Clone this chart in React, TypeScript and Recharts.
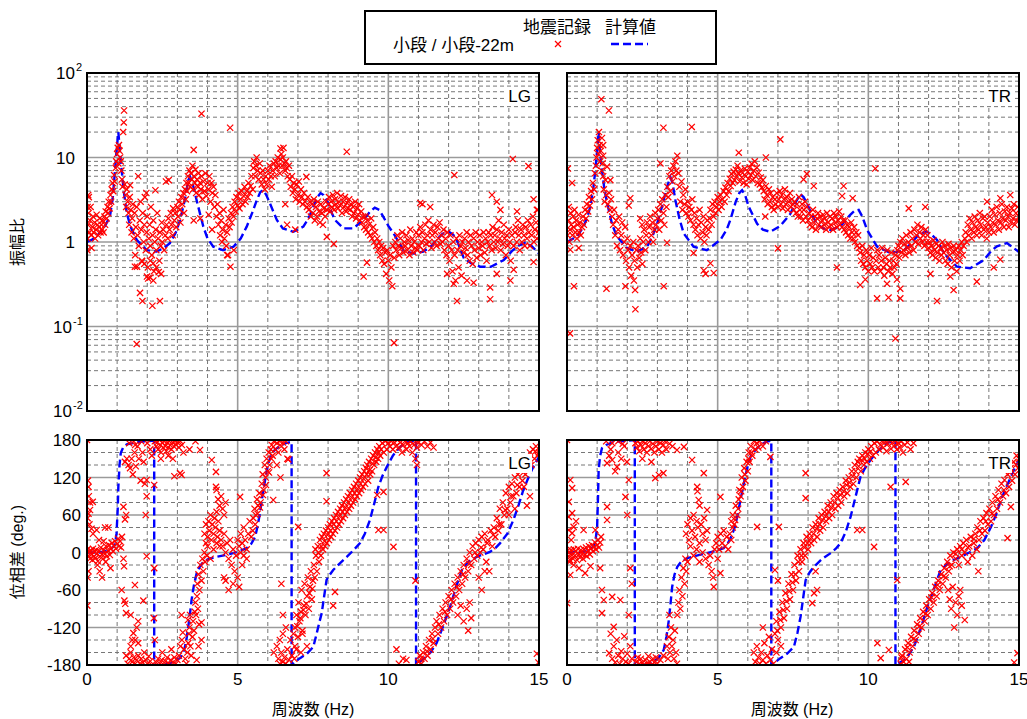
import React from "react";
import { CartesianGrid, ComposedChart, Line, Scatter, XAxis, YAxis } from "recharts";

type Pt = [number, number];

// ---- axis ticks / grid values ----
const freqTicks = [0, 5, 10, 15];
const freqMinor = [1, 2, 3, 4, 6, 7, 8, 9, 11, 12, 13, 14];
const freqMajor = [5, 10];
const ampTicks = [0.01, 0.1, 1, 10, 100];
const ampMajor = [0.1, 1, 10];
const ampMinor = [0.01, 0.1, 1, 10].flatMap((d) => [2, 3, 4, 5, 6, 7, 8, 9].map((m) => +(m * d).toPrecision(3)));
const phaseTicks = [-180, -120, -60, 0, 60, 120, 180];
const phaseMajor = [-120, -60, 0, 60, 120];
const phaseMinor = [-160, -140, -100, -80, -40, -20, 20, 40, 80, 100, 140, 160];

// ---- 計算値 (amplitude ratio) ----
const ampCalcLG: Pt[] = [
  [0, 1.0], [0.2, 1.08], [0.43, 1.28], [0.6, 1.55], [0.76, 2.0], [0.85, 3.2], [0.93, 7.1], [0.98, 12], [1.04, 20],
  [1.1, 11], [1.15, 7.1], [1.22, 4.0], [1.32, 2.2], [1.45, 1.5], [1.65, 1.06], [1.98, 0.8], [2.31, 0.77], [2.55, 0.85],
  [2.75, 0.97], [2.95, 1.3], [3.09, 1.82], [3.25, 3.2], [3.36, 5.4], [3.42, 5.9], [3.5, 5.0], [3.64, 3.1], [3.86, 1.52],
  [4.0, 1.1], [4.19, 0.88], [4.52, 0.8], [4.86, 0.88], [5.1, 1.1], [5.3, 1.52], [5.5, 2.3], [5.63, 3.1], [5.75, 3.9],
  [5.85, 4.1], [5.95, 3.6], [6.07, 2.87], [6.3, 1.82], [6.5, 1.45], [6.85, 1.32], [7.18, 1.52], [7.35, 1.9], [7.51, 2.62],
  [7.65, 3.4], [7.75, 3.8], [7.85, 3.6], [7.96, 3.1], [8.1, 2.3], [8.23, 1.82], [8.51, 1.45], [8.84, 1.45], [9.17, 1.82],
  [9.4, 2.3], [9.55, 2.55], [9.7, 2.4], [9.83, 2.0], [10.0, 1.55], [10.17, 1.27], [10.5, 0.8], [10.83, 0.73], [11.16, 0.77],
  [11.4, 0.88], [11.6, 1.06], [11.8, 1.25], [12.0, 1.33], [12.15, 1.22], [12.27, 1.06], [12.5, 0.65], [12.75, 0.56],
  [13.05, 0.51], [13.4, 0.51], [13.83, 0.61], [14.1, 0.78], [14.3, 0.9], [14.55, 0.98], [14.75, 0.9], [15, 0.73],
];
const ampCalcTR: Pt[] = [
  [0, 1.0], [0.33, 1.16], [0.55, 1.52], [0.7, 2.1], [0.77, 2.62], [0.87, 4.2], [0.94, 7.1], [1.0, 12], [1.05, 20],
  [1.1, 11], [1.16, 7.1], [1.25, 4.0], [1.33, 2.9], [1.5, 1.6], [1.66, 1.16], [1.99, 0.85], [2.32, 0.77], [2.66, 0.88],
  [2.85, 1.2], [2.99, 1.64], [3.15, 2.6], [3.32, 4.5], [3.43, 5.9], [3.5, 5.0], [3.6, 3.1], [3.73, 1.9], [3.87, 1.27],
  [4.2, 0.88], [4.64, 0.8], [5.09, 1.06], [5.3, 1.4], [5.42, 1.82], [5.6, 3.0], [5.72, 3.8], [5.81, 4.1], [5.92, 3.5],
  [6.03, 2.62], [6.31, 1.64], [6.5, 1.4], [6.75, 1.32], [7.08, 1.55], [7.41, 2.15], [7.6, 3.0], [7.74, 3.7], [7.85, 3.4],
  [7.96, 2.9], [8.1, 2.2], [8.29, 1.64], [8.5, 1.45], [8.74, 1.39], [9.07, 1.52], [9.4, 2.1], [9.55, 2.35], [9.68, 2.4],
  [9.8, 2.0], [9.96, 1.39], [10.29, 0.88], [10.74, 0.74], [11.18, 0.8], [11.4, 0.95], [11.62, 1.16], [11.8, 1.28],
  [11.95, 1.32], [12.1, 1.22], [12.28, 1.06], [12.45, 0.8], [12.61, 0.67], [12.94, 0.51], [13.38, 0.49], [13.83, 0.61],
  [14.1, 0.8], [14.27, 0.89], [14.6, 0.97], [14.8, 0.86], [15, 0.76],
];

// ---- 計算値 (phase) ----
const phaseCalcLG: Pt[] = [
  [0, 0], [0.43, 0], [0.76, 4], [0.93, 12], [0.98, 31], [1.02, 70], [1.04, 105], [1.08, 140], [1.12, 159], [1.2, 168],
  [1.32, 173], [1.76, 177], [2.23, 179], [2.23, -180], [2.42, -180], [2.75, -177], [2.95, -173], [3.08, -169], [3.18, -162],
  [3.25, -151], [3.31, -136], [3.36, -119], [3.42, -97], [3.47, -76], [3.55, -52], [3.64, -33], [3.75, -22], [3.86, -15],
  [4.05, -10], [4.3, -7], [4.6, -4], [4.86, -1], [5.1, 3], [5.3, 7], [5.45, 14], [5.58, 25], [5.66, 42], [5.74, 63],
  [5.82, 90], [5.91, 116], [6.0, 140], [6.13, 159], [6.3, 167], [6.46, 172], [6.6, 175], [6.79, 177], [6.79, -180],
  [6.9, -175], [7.07, -169], [7.3, -162], [7.51, -151], [7.62, -130], [7.72, -110], [7.79, -97], [7.87, -70], [7.95, -44],
  [8.05, -36], [8.17, -28], [8.4, -17], [8.62, -7], [8.85, 4], [9.06, 15], [9.22, 30], [9.39, 52], [9.53, 78], [9.67, 105],
  [9.8, 122], [9.95, 137], [10.15, 155], [10.39, 169], [10.6, 176], [10.92, 180], [10.92, -180], [11.0, -177],
  [11.16, -171], [11.4, -160], [11.6, -145], [11.8, -120], [12.05, -87], [12.25, -55], [12.44, -28], [12.65, -15],
  [12.93, -7], [13.15, -3], [13.37, 1], [13.55, 7], [13.71, 15], [13.95, 30], [14.15, 52], [14.33, 77], [14.48, 100],
  [14.65, 120], [14.81, 137], [15, 153],
];
const phaseCalcTR: Pt[] = [
  [0, 0], [0.55, 1], [0.88, 9], [0.95, 20], [1.0, 41], [1.03, 90], [1.05, 132], [1.1, 155], [1.16, 167], [1.3, 172],
  [1.55, 177], [2.25, 180], [2.25, -180], [2.55, -180], [2.88, -175], [3.05, -168], [3.21, -156], [3.3, -135],
  [3.38, -108], [3.44, -80], [3.49, -55], [3.57, -35], [3.66, -23], [3.8, -14], [3.99, -9], [4.3, -5], [4.65, -1],
  [4.95, 3], [5.2, 7], [5.33, 14], [5.43, 23], [5.55, 38], [5.65, 57], [5.76, 85], [5.87, 111], [5.98, 135], [6.09, 153],
  [6.25, 164], [6.42, 172], [6.6, 177], [6.78, 179], [6.78, -180], [6.9, -176], [7.08, -169], [7.3, -162], [7.53, -151],
  [7.65, -128], [7.75, -103], [7.84, -72], [7.92, -44], [8.05, -32], [8.19, -23], [8.45, -11], [8.75, -1], [8.92, 6],
  [9.08, 15], [9.25, 33], [9.41, 57], [9.58, 90], [9.74, 121], [9.9, 136], [10.07, 148], [10.25, 159], [10.41, 167],
  [10.62, 175], [10.9, 180], [10.9, -180], [10.98, -178], [11.18, -172], [11.35, -163], [11.51, -151], [11.75, -120],
  [11.96, -87], [12.2, -55], [12.4, -28], [12.7, -15], [13.06, -7], [13.35, 0], [13.62, 7], [13.85, 20], [14.07, 41],
  [14.25, 62], [14.4, 84], [14.58, 105], [14.73, 121], [14.87, 136], [15, 148],
];

// ---- 地震記録 (amplitude ratio) ----
const ampRecLG: Pt[] = [
  [0.02, 1.1], [0.03, 1.6], [0.05, 2.2], [0.06, 3.4], [0.08, 1.3], [0.1, 1.8], [0.12, 2.6], [0.14, 1.2], [0.15, 0.85],
  [0.18, 1.5], [0.2, 2.0], [0.22, 1.3], [0.25, 1.7], [0.27, 1.1], [0.3, 1.4], [0.32, 2.1], [0.35, 1.6], [0.37, 1.2],
  [0.4, 1.5], [0.42, 1.9], [0.45, 1.3], [0.48, 1.6], [0.5, 1.4], [0.01, 0.8], [0.02, 2.6], [0.04, 3.6],
  [0.52, 1.8], [0.55, 1.3], [0.58, 2.0], [0.6, 1.6], [0.62, 2.3], [0.65, 1.9], [0.68, 2.6], [0.7, 2.2], [0.72, 3.0],
  [0.75, 2.5], [0.78, 3.6], [0.8, 3.0], [0.82, 4.2], [0.85, 5.0], [0.87, 4.0], [0.9, 6.2], [0.92, 5.2], [0.95, 7.5],
  [0.97, 9.0], [1.0, 11], [1.02, 13], [1.04, 8.5], [1.06, 14], [1.08, 12], [1.1, 10], [1.12, 9], [1.14, 7.0],
  [1.16, 5.5], [1.18, 4.5], [1.2, 20], [1.22, 26], [1.23, 36],
  [1.25, 4.8], [1.28, 3.6], [1.3, 2.6], [1.32, 4.2], [1.35, 3.0], [1.38, 2.2], [1.4, 1.6], [1.42, 3.4], [1.43, 4.7],
  [1.45, 2.4], [1.48, 1.3], [1.5, 1.9], [1.52, 2.8], [1.55, 1.1], [1.58, 2.2], [1.6, 0.7], [1.62, 1.5], [1.65, 2.6],
  [1.68, 1.2], [1.7, 6.0], [1.72, 0.9], [1.75, 1.8], [1.78, 3.0], [1.8, 1.4], [1.82, 0.6], [1.85, 2.2], [1.88, 1.0],
  [1.9, 1.6], [1.92, 3.4], [1.95, 0.8], [1.97, 3.8], [1.98, 1.3], [2.0, 2.0], [2.02, 0.5], [2.05, 1.1], [2.08, 1.6],
  [2.1, 0.9], [2.12, 2.6], [2.15, 0.7], [2.18, 1.2], [2.2, 1.8], [2.22, 0.45], [2.25, 1.0], [2.27, 4.1], [2.28, 1.4],
  [2.3, 0.8], [2.33, 2.2], [2.36, 1.1], [2.4, 0.6], [2.42, 1.3], [2.45, 0.9], [2.48, 1.7],
  [1.59, 0.51], [1.65, 0.062], [1.76, 0.25], [1.84, 0.2], [2.03, 0.37], [2.17, 0.176], [2.2, 0.35], [2.42, 0.2],
  [2.46, 0.42], [1.9, 0.55], [2.1, 0.6], [2.3, 0.5], [1.66, 0.51], [1.83, 0.59], [2.2, 0.56], [2.38, 0.44],
  [1.99, 0.39], [2.1, 0.38],
  [2.5, 1.0], [2.53, 1.4], [2.56, 0.8], [2.6, 1.2], [2.62, 5.2], [2.64, 1.6], [2.68, 1.1], [2.7, 1.9], [2.71, 5.4],
  [2.74, 1.4], [2.78, 2.2], [2.8, 1.6], [2.84, 1.2], [2.86, 2.5], [2.9, 1.8], [2.93, 2.2], [2.96, 1.5], [3.0, 2.6],
  [3.02, 2.0], [3.05, 3.0], [3.08, 2.4], [3.1, 1.7], [3.13, 3.4], [3.16, 2.8], [3.2, 3.8], [3.22, 2.2], [3.25, 4.2],
  [3.28, 3.2], [3.3, 5.0], [3.32, 4.0], [3.35, 6.0], [3.38, 5.0], [3.4, 7.0], [3.42, 4.5], [3.45, 6.5], [3.48, 5.5],
  [3.5, 8.0], [3.52, 4.2], [3.54, 12.3], [3.55, 6.0], [3.58, 5.0], [3.6, 7.2], [3.62, 3.8], [3.65, 5.5], [3.68, 4.5],
  [3.7, 6.5], [3.8, 33], [4.75, 22.5], [3.54, 1.8], [3.76, 1.9], [4.04, 2.1], [4.15, 1.4],
  [3.72, 3.6], [3.75, 5.0], [3.78, 4.2], [3.8, 6.0], [3.83, 3.2], [3.86, 5.2], [3.9, 4.0], [3.93, 6.5], [3.96, 3.5],
  [4.0, 5.0], [4.03, 4.2], [4.06, 6.0], [4.1, 3.0], [4.13, 5.0], [4.16, 3.8], [4.2, 4.5], [4.23, 2.6], [4.26, 3.6],
  [4.3, 2.0], [4.33, 2.8], [4.36, 1.6], [4.4, 2.2], [4.42, 1.2], [4.45, 1.8], [4.48, 1.0], [4.5, 1.4], [4.53, 2.4],
  [4.56, 1.1], [4.6, 1.6], [4.62, 0.9], [4.65, 1.3], [4.65, 0.7], [4.68, 0.7], [4.7, 1.9], [4.76, 0.51], [4.87, 0.8],
  [4.73, 1.5], [4.78, 2.2], [4.8, 1.7], [4.83, 2.6], [4.86, 2.0], [4.9, 3.0], [4.93, 2.3], [4.96, 3.4], [5.0, 2.7],
  [5.03, 3.8], [5.06, 2.5], [5.1, 3.2], [5.13, 4.0], [5.16, 2.8], [5.2, 3.5], [5.23, 4.5], [5.26, 3.0], [5.3, 4.0],
  [5.33, 3.4], [5.36, 5.0], [5.4, 3.8], [5.43, 4.6], [5.46, 6.0], [5.5, 4.2], [5.52, 7.5], [5.55, 9.0], [5.58, 6.0],
  [5.6, 8.0], [5.63, 10], [5.66, 7.0], [5.7, 5.5], [5.73, 8.5], [5.76, 6.5], [5.8, 4.8], [5.83, 7.0], [5.86, 5.5],
  [5.9, 4.2], [5.93, 6.0], [5.96, 4.8], [6.0, 7.0], [6.03, 5.5], [6.06, 8.0], [6.1, 6.0], [6.13, 4.5], [6.16, 7.0],
  [6.2, 8.5], [6.23, 6.0], [6.26, 9.0], [6.3, 7.5], [6.33, 10], [6.36, 8.0], [6.4, 6.5], [6.42, 12.8], [6.42, 9.5],
  [6.45, 11], [6.48, 8.0], [6.5, 10], [6.52, 13], [6.55, 8.5], [6.58, 7.0], [6.6, 9.0], [6.63, 7.5], [6.66, 6.0],
  [6.7, 8.0], [6.58, 2.8], [6.64, 1.6], [6.91, 1.4], [7.28, 5.9],
  [6.73, 5.5], [6.76, 4.5], [6.8, 6.0], [6.83, 3.8], [6.86, 5.0], [6.9, 4.2], [6.93, 3.2], [6.96, 4.8], [7.0, 3.6],
  [7.03, 5.2], [7.06, 3.0], [7.1, 4.2], [7.13, 3.4], [7.16, 2.8], [7.2, 3.8], [7.23, 3.0], [7.3, 2.6], [7.33, 3.4],
  [7.36, 2.4], [7.4, 3.0], [7.43, 2.0], [7.46, 2.8], [7.5, 2.2], [7.53, 3.2], [7.56, 1.8], [7.6, 2.6], [7.63, 2.0],
  [7.66, 3.0], [7.7, 2.3], [7.73, 1.7], [7.76, 2.8], [7.8, 2.2], [7.83, 1.6], [7.86, 2.5], [7.9, 2.0], [7.93, 3.0],
  [7.96, 2.4], [7.96, 1.15], [8.19, 0.95],
  [8.0, 2.8], [8.03, 3.4], [8.06, 2.3], [8.1, 3.0], [8.13, 2.6], [8.16, 3.6], [8.2, 2.4], [8.23, 3.2], [8.26, 2.8],
  [8.3, 3.8], [8.33, 2.5], [8.36, 3.0], [8.4, 2.7], [8.43, 3.5], [8.46, 2.2], [8.5, 3.0], [8.53, 2.6], [8.56, 3.4],
  [8.6, 2.3], [8.62, 11.7], [8.63, 2.9], [8.66, 2.5], [8.7, 3.2], [8.73, 2.4], [8.76, 2.8], [8.8, 2.0], [8.83, 2.6],
  [8.86, 2.2], [8.9, 3.0], [8.93, 1.9], [8.96, 2.5], [9.0, 2.1], [9.03, 2.8], [9.06, 1.8], [9.1, 2.3], [9.13, 1.7],
  [9.16, 2.0], [9.2, 1.5], [9.23, 2.0], [9.26, 1.4], [9.3, 1.8], [9.33, 1.3], [9.36, 1.6], [9.4, 1.2], [9.43, 1.9],
  [9.46, 1.1], [9.5, 1.5], [9.53, 1.0], [9.56, 1.3], [9.6, 0.9], [9.29, 0.57], [9.18, 0.39],
  [9.63, 1.1], [9.66, 0.8], [9.7, 1.0], [9.73, 0.7], [9.76, 0.9], [9.8, 0.6], [9.83, 0.85], [9.86, 0.55], [9.9, 0.75],
  [9.93, 0.42], [9.96, 0.8], [10.0, 0.6], [10.03, 0.35], [10.06, 0.7], [10.1, 0.5], [10.13, 0.3], [10.16, 0.9],
  [10.19, 0.064], [10.2, 0.65], [10.23, 1.0], [10.26, 0.8], [10.3, 1.2], [10.33, 0.9], [10.36, 0.7], [10.4, 1.1],
  [10.43, 0.85], [10.46, 1.3], [10.5, 0.75], [10.53, 1.0], [10.56, 0.9], [10.6, 1.2], [10.63, 0.8], [10.66, 1.05],
  [10.7, 0.7], [10.73, 1.4], [10.76, 0.9], [10.8, 1.1], [10.83, 0.75], [10.86, 1.0], [10.9, 0.85], [10.93, 1.3],
  [10.96, 0.8], [11.06, 2.9], [11.39, 2.6], [12.19, 6.2], [11.13, 2.8],
  [11.0, 1.2], [11.03, 0.9], [11.06, 1.5], [11.1, 1.0], [11.13, 1.3], [11.16, 0.8], [11.2, 1.1], [11.23, 1.6],
  [11.26, 0.95], [11.3, 1.2], [11.33, 1.8], [11.36, 1.0], [11.4, 1.4], [11.43, 0.85], [11.46, 1.2], [11.5, 1.6],
  [11.53, 1.0], [11.56, 1.3], [11.6, 0.9], [11.63, 1.5], [11.66, 1.1], [11.7, 1.7], [11.73, 0.95], [11.76, 1.2],
  [11.8, 1.0], [11.83, 1.4], [11.86, 0.8], [11.9, 1.1], [11.93, 0.7], [11.96, 1.3], [12.0, 0.9], [12.03, 0.6],
  [12.06, 1.2], [12.1, 0.8], [12.13, 0.45], [12.16, 1.0], [12.2, 0.7], [12.23, 0.35], [12.26, 1.1], [12.3, 0.8],
  [12.33, 0.5], [12.36, 1.2], [12.4, 0.9], [12.43, 0.4], [12.46, 1.0], [12.5, 0.75], [12.17, 0.32], [12.28, 0.2],
  [12.61, 0.35], [12.83, 0.33], [11.95, 0.42], [13.38, 0.29], [13.38, 0.21], [13.6, 0.42],
  [12.53, 1.1], [12.56, 0.85], [12.6, 1.3], [12.63, 0.7], [12.66, 1.0], [12.7, 0.6], [12.73, 1.2], [12.76, 0.9],
  [12.8, 0.55], [12.83, 1.1], [12.86, 0.8], [12.9, 1.3], [12.93, 0.65], [12.96, 1.0], [13.0, 0.85], [13.03, 1.2],
  [13.06, 0.7], [13.1, 1.0], [13.13, 0.9], [13.16, 1.3], [13.2, 0.75], [13.23, 1.1], [13.26, 0.6], [13.3, 1.0],
  [13.33, 1.3], [13.36, 0.9], [13.4, 1.2], [13.43, 0.8], [13.46, 1.5], [13.5, 1.0], [13.53, 1.2], [13.56, 0.85],
  [13.6, 1.4], [13.63, 1.0], [13.66, 1.8], [13.7, 1.1], [13.73, 0.8], [13.76, 1.3], [13.8, 0.95], [13.83, 1.6],
  [13.86, 1.1], [13.9, 0.7], [13.93, 1.2], [13.96, 0.9], [14.0, 1.4], [14.03, 1.0], [14.06, 0.6], [14.1, 1.2],
  [14.13, 9.6], [14.16, 0.9], [14.2, 1.3], [13.44, 3.6], [13.6, 3.0], [13.72, 2.4], [14.27, 2.3], [14.82, 3.2],
  [14.93, 2.4], [14.16, 0.47], [14.05, 0.35], [14.82, 0.58],
  [14.23, 1.5], [14.26, 1.0], [14.3, 1.8], [14.33, 1.2], [14.36, 0.8], [14.4, 1.4], [14.43, 1.0], [14.46, 1.6],
  [14.5, 1.2], [14.53, 0.9], [14.56, 1.5], [14.6, 1.1], [14.63, 1.8], [14.65, 7.9], [14.66, 1.3], [14.7, 0.9],
  [14.73, 1.6], [14.76, 1.2], [14.8, 2.0], [14.83, 1.0], [14.86, 1.4], [14.9, 1.7], [14.93, 1.1], [14.96, 2.4], [15.0, 1.3],
];
const ampRecTR: Pt[] = [
  [0.02, 1.2], [0.03, 7.4], [0.05, 1.8], [0.06, 2.6], [0.08, 1.0], [0.1, 0.083], [0.1, 1.4], [0.12, 2.2], [0.14, 1.6],
  [0.17, 5.0], [0.18, 1.2], [0.2, 2.0], [0.22, 1.5], [0.23, 0.3], [0.25, 2.4], [0.28, 1.3], [0.3, 1.8], [0.33, 1.1],
  [0.35, 1.6], [0.38, 2.1], [0.4, 1.3], [0.43, 1.7], [0.46, 1.2], [0.5, 1.5], [0.11, 0.81], [0.39, 0.85],
  [0.53, 2.0], [0.56, 1.6], [0.6, 2.4], [0.63, 1.9], [0.66, 2.8], [0.7, 2.3], [0.73, 3.4], [0.76, 2.7], [0.8, 4.0],
  [0.83, 3.2], [0.86, 5.0], [0.9, 4.2], [0.93, 6.5], [0.96, 8.0], [0.98, 10], [1.0, 13], [1.02, 16], [1.04, 11],
  [1.06, 20], [1.08, 14], [1.1, 9.0], [1.12, 12], [1.14, 49], [1.15, 7.0], [1.16, 17], [1.18, 8.5], [1.2, 14],
  [1.2, 6.0], [1.2, 10.5], [1.39, 36], [1.33, 7.8], [1.44, 5.4],
  [1.22, 4.2], [1.25, 3.0], [1.28, 5.4], [1.3, 3.6], [1.36, 2.8], [1.4, 3.8], [1.43, 2.4], [1.46, 3.2], [1.5, 2.0],
  [1.53, 1.6], [1.56, 2.4], [1.6, 1.2], [1.63, 1.8], [1.66, 0.9], [1.7, 1.4], [1.73, 2.0], [1.76, 0.8], [1.8, 1.2],
  [1.83, 1.7], [1.86, 0.7], [1.9, 1.0], [1.93, 1.5], [1.96, 0.6], [2.0, 1.1], [2.1, 3.3], [2.05, 2.7], [2.43, 1.9],
  [2.49, 1.6], [1.31, 0.28], [1.94, 0.3],
  [2.03, 0.8], [2.06, 0.5], [2.1, 0.9], [2.13, 0.4], [2.16, 0.7], [2.2, 1.0], [2.22, 0.35], [2.24, 0.6], [2.26, 0.27],
  [2.27, 0.16], [2.3, 0.8], [2.33, 0.5], [2.36, 0.9], [2.4, 0.65], [2.43, 1.1], [2.46, 0.75], [2.5, 0.55],
  [2.53, 1.0], [2.56, 1.4], [2.6, 0.8], [2.63, 1.2], [2.66, 1.7], [2.7, 1.0], [2.73, 1.5], [2.76, 2.0], [2.8, 1.2],
  [2.83, 1.7], [2.86, 1.0], [2.9, 1.4], [2.93, 2.2], [2.96, 1.6], [3.0, 1.9], [3.21, 0.3], [3.1, 8.5], [3.2, 22.5],
  [3.32, 0.98], [3.03, 2.4], [3.06, 1.4], [3.1, 2.8], [3.13, 1.8], [3.16, 3.2], [3.2, 2.2], [3.23, 1.6], [3.26, 3.6],
  [3.3, 2.6], [3.33, 4.5], [3.36, 3.4], [3.4, 6.0], [3.43, 4.0], [3.46, 7.0], [3.5, 5.2], [3.53, 8.0], [3.56, 6.0],
  [3.6, 9.0], [3.63, 7.0], [3.66, 10.5], [3.7, 6.5], [3.73, 4.5], [3.76, 3.0], [3.8, 5.2], [3.83, 2.4], [3.86, 3.6],
  [3.9, 2.8], [3.93, 4.2], [3.96, 2.2], [4.0, 3.0], [4.03, 2.0], [4.06, 2.6], [4.1, 1.8], [4.13, 2.4], [4.14, 23],
  [4.16, 3.2], [4.2, 1.6], [4.23, 2.2], [4.26, 1.4], [4.3, 1.9], [4.33, 1.2], [4.36, 1.6], [4.4, 2.4], [4.43, 1.1],
  [4.46, 1.7], [4.5, 1.3], [4.53, 2.0], [4.56, 1.0], [4.6, 1.5], [4.63, 1.2], [4.66, 1.8], [4.7, 1.4], [4.2, 0.74],
  [4.54, 0.46], [4.6, 0.42], [4.87, 0.43], [4.76, 0.56],
  [4.73, 1.9], [4.76, 2.4], [4.8, 1.6], [4.83, 2.8], [4.86, 2.0], [4.9, 3.0], [4.93, 2.2], [4.96, 2.6], [5.0, 3.4],
  [5.03, 2.4], [5.06, 3.0], [5.1, 3.6], [5.13, 2.6], [5.16, 3.2], [5.2, 4.0], [5.23, 3.0], [5.26, 4.4], [5.3, 3.6],
  [5.33, 5.0], [5.36, 4.0], [5.4, 5.6], [5.43, 4.6], [5.46, 6.4], [5.5, 5.0], [5.53, 6.8], [5.56, 5.4], [5.6, 7.2],
  [5.63, 6.0], [5.66, 8.0], [5.7, 11.4], [5.7, 6.4], [5.73, 5.2], [5.76, 7.0], [5.8, 5.8], [5.83, 6.6], [5.86, 5.0],
  [5.9, 7.4], [5.93, 6.0], [5.96, 4.8], [6.0, 6.8], [6.03, 5.6], [6.06, 7.6], [6.1, 6.2], [6.13, 8.4], [6.16, 5.4],
  [6.2, 7.0], [6.23, 9.0], [6.26, 6.0], [6.3, 7.6], [6.33, 5.0], [6.36, 6.6], [6.4, 4.8], [6.43, 5.8], [6.46, 4.4],
  [6.5, 5.4], [6.6, 10], [7.0, 0.84], [6.58, 2.0],
  [6.53, 4.0], [6.56, 3.2], [6.6, 4.6], [6.63, 3.6], [6.66, 2.8], [6.7, 4.2], [6.73, 3.0], [6.76, 3.8], [6.8, 2.6],
  [6.83, 3.4], [6.86, 2.4], [6.9, 3.2], [6.93, 2.8], [6.96, 3.8], [7.0, 2.6], [7.03, 3.2], [7.06, 4.0], [7.08, 16.4],
  [7.1, 2.8], [7.13, 3.6], [7.16, 2.5], [7.2, 3.2], [7.23, 4.2], [7.26, 2.8], [7.3, 3.4], [7.33, 2.4], [7.36, 3.0],
  [7.4, 3.8], [7.43, 2.6], [7.46, 3.2], [7.5, 2.8], [7.85, 5.5], [7.96, 6.4], [8.19, 4.6], [9.18, 4.6], [9.13, 3.5],
  [9.48, 3.3], [8.96, 0.5], [9.73, 0.31], [9.9, 0.36],
  [7.53, 2.4], [7.56, 3.0], [7.6, 2.2], [7.63, 2.8], [7.66, 2.0], [7.7, 3.4], [7.73, 2.4], [7.76, 2.0], [7.8, 2.8],
  [7.83, 1.8], [7.86, 2.4], [7.9, 3.0], [7.93, 2.0], [7.96, 2.6], [8.0, 1.8], [8.03, 2.2], [8.06, 1.6], [8.1, 2.0],
  [8.13, 1.5], [8.16, 2.4], [8.2, 1.7], [8.23, 2.0], [8.26, 1.4], [8.3, 1.9], [8.33, 2.2], [8.36, 1.6], [8.4, 2.0],
  [8.43, 1.5], [8.46, 1.8], [8.5, 2.1], [8.53, 1.6], [8.56, 1.9], [8.6, 1.4], [8.63, 2.2], [8.66, 1.7], [8.7, 1.5],
  [8.73, 2.0], [8.76, 1.6], [8.8, 1.9], [8.83, 1.4], [8.86, 2.2], [8.9, 1.7], [8.93, 2.0], [8.96, 1.5], [9.0, 1.8],
  [9.03, 2.3], [9.06, 1.6], [9.1, 2.0], [9.13, 1.5], [9.16, 1.8], [9.2, 1.4], [9.23, 1.8], [9.26, 1.3], [9.3, 1.6],
  [9.33, 1.2], [9.36, 1.5], [9.4, 1.1], [9.43, 1.7], [9.46, 1.3], [9.5, 1.1], [9.53, 1.5], [9.56, 1.0], [9.6, 1.3],
  [9.63, 0.9], [9.66, 1.2], [9.7, 0.85],
  [9.73, 0.75], [9.76, 0.6], [9.8, 0.9], [9.83, 0.55], [9.86, 0.7], [9.9, 0.5], [9.93, 0.8], [9.96, 0.6], [10.0, 0.45],
  [10.03, 0.7], [10.06, 0.55], [10.1, 0.85], [10.13, 0.5], [10.16, 0.65], [10.2, 0.45], [10.23, 7.4], [10.26, 0.6],
  [10.29, 0.215], [10.3, 0.8], [10.33, 0.5], [10.36, 0.7], [10.4, 0.45], [10.43, 0.6], [10.46, 0.85], [10.5, 0.5],
  [10.53, 0.4], [10.56, 0.65], [10.6, 0.55], [10.63, 0.8], [10.66, 0.45], [10.67, 0.22], [10.7, 0.6], [10.73, 0.5],
  [10.76, 0.75], [10.8, 0.42], [10.83, 0.6], [10.86, 0.5], [10.9, 0.072], [10.9, 0.7], [10.93, 0.55], [10.96, 0.8],
  [10.62, 0.32], [10.95, 0.36], [11.06, 0.28], [11.06, 0.215], [11.34, 2.5], [11.89, 2.6],
  [11.0, 0.9], [11.03, 0.65], [11.06, 1.0], [11.1, 0.75], [11.13, 1.1], [11.16, 0.8], [11.2, 0.95], [11.23, 0.7],
  [11.26, 1.2], [11.3, 0.85], [11.33, 1.0], [11.36, 0.75], [11.4, 1.3], [11.43, 0.9], [11.46, 1.1], [11.5, 0.8],
  [11.53, 1.4], [11.56, 1.0], [11.6, 1.2], [11.63, 1.6], [11.66, 0.95], [11.7, 1.3], [11.73, 1.1], [11.76, 1.5],
  [11.8, 1.0], [11.83, 1.2], [11.86, 0.9], [11.9, 1.4], [11.93, 1.0], [11.96, 1.2], [12.0, 0.85], [12.03, 1.0],
  [12.06, 0.75], [12.1, 0.9], [12.13, 0.7], [12.16, 1.05], [12.2, 0.8], [12.23, 0.65], [12.26, 0.95], [12.28, 0.2],
  [12.3, 0.75], [12.33, 0.9], [12.36, 0.6], [12.4, 0.85], [12.43, 0.7], [12.46, 1.0], [12.5, 0.75],
  [12.53, 0.9], [12.56, 0.6], [12.6, 0.8], [12.63, 0.55], [12.66, 0.95], [12.7, 0.7], [12.73, 0.85], [12.76, 0.5],
  [12.8, 0.75], [12.83, 0.27], [12.83, 0.9], [12.86, 0.6], [12.9, 0.8], [12.93, 0.45], [12.96, 0.7], [13.0, 0.9],
  [13.03, 0.6], [13.06, 0.8], [13.1, 1.0], [13.13, 0.7], [13.16, 0.9], [13.2, 1.1], [12.72, 0.39], [12.06, 0.42],
  [13.6, 0.34], [14.38, 0.62], [14.16, 0.5],
  [13.23, 1.3], [13.26, 1.0], [13.3, 1.6], [13.33, 1.2], [13.36, 1.9], [13.4, 1.4], [13.43, 1.1], [13.46, 1.7],
  [13.5, 1.3], [13.53, 2.0], [13.56, 1.5], [13.6, 1.2], [13.63, 1.8], [13.66, 1.4], [13.7, 2.2], [13.73, 1.6],
  [13.76, 1.2], [13.8, 1.9], [13.83, 1.4], [13.86, 2.0], [13.9, 1.5], [13.93, 1.1], [13.96, 1.7], [14.0, 1.3],
  [13.94, 3.0], [14.38, 3.3], [14.71, 3.6],
  [14.03, 2.0], [14.06, 1.5], [14.1, 2.4], [14.13, 1.7], [14.16, 1.3], [14.2, 2.1], [14.23, 1.6], [14.26, 2.6],
  [14.3, 1.8], [14.33, 1.4], [14.36, 2.2], [14.4, 1.7], [14.43, 2.8], [14.46, 1.9], [14.5, 1.5], [14.53, 2.3],
  [14.56, 1.8], [14.6, 2.6], [14.63, 2.0], [14.66, 1.5], [14.7, 2.2], [14.73, 1.7], [14.76, 2.5], [14.8, 1.9],
  [14.83, 2.8], [14.86, 1.6], [14.9, 2.2], [14.93, 1.8], [14.96, 2.6], [15.0, 2.0],
];

// ---- 地震記録 (phase) ----
const phaseRecLG: Pt[] = [
  [0.02, 5], [0.05, -5], [0.08, 2], [0.1, -10], [0.13, 3], [0.15, -3], [0.18, -12], [0.2, 6], [0.23, -6], [0.25, 1],
  [0.28, -9], [0.3, 4], [0.33, -2], [0.36, -14], [0.4, 2], [0.43, -6], [0.46, 8], [0.5, -3], [0.53, -10], [0.56, 4],
  [0.6, -2], [0.63, 10], [0.66, -6], [0.7, 3], [0.73, 12], [0.76, -4], [0.8, 6], [0.83, 15], [0.86, 2], [0.9, 10],
  [0.93, 18], [0.96, 6], [1.0, 14], [1.03, 22], [1.06, 10], [1.1, 18], [1.13, 8], [1.16, 25],
  [0.0, 180], [0.03, 115], [0.05, 105], [0.06, 90], [0.1, 80], [0.05, 62], [0.1, 68], [0.02, 55], [0.08, 45],
  [0.15, 38], [0.2, 30], [0.05, -30], [0.02, -40], [0.01, -85], [0.35, -20], [0.42, -30], [0.6, 40], [0.71, 40],
  [0.32, 36], [0.19, 81], [0.62, -15], [0.78, -25], [0.4, 20], [0.55, 18], [0.5, -40],
  [1.21, 73], [1.26, 53], [1.3, 60], [1.21, -10], [1.23, -22], [1.15, -60], [1.24, -77], [1.3, -97], [1.27, -82],
  [1.59, -52], [1.54, -129], [1.65, -120], [1.87, -77], [1.45, -100], [1.6, -140], [1.7, -110],
  [1.26, 145], [1.32, 150], [1.38, 140], [1.43, 135], [1.48, 150], [1.52, 125], [1.58, 160], [1.62, 138], [1.68, 170],
  [1.72, 150], [1.78, 115], [1.84, 160], [1.88, 145], [1.92, 110], [1.98, 116], [1.98, 90], [1.95, 60], [1.98, -6],
  [2.23, 108], [2.23, -25], [1.4, 175], [1.55, 178], [1.6, 172], [1.8, 178], [2.0, 175], [2.1, 165], [2.15, 155],
  [1.3, -165], [1.35, -178], [1.4, -170], [1.45, -160], [1.5, -175], [1.55, -168], [1.6, -178], [1.65, -172],
  [1.7, -165], [1.75, -178], [1.8, -170], [1.85, -176], [1.9, -160], [1.95, -172], [2.0, -178], [2.05, -166],
  [2.1, -174], [2.15, -180], [1.45, -150], [1.7, -145], [1.5, -140],
  [2.25, 178], [2.3, 170], [2.33, 176], [2.36, 165], [2.4, 180], [2.43, 172], [2.46, 160], [2.5, 176], [2.53, 168],
  [2.56, 178], [2.6, 170], [2.63, 162], [2.66, 176], [2.7, 168], [2.73, 178], [2.76, 172], [2.8, 165], [2.84, 176],
  [2.88, 170], [2.92, 178], [2.96, 172], [3.0, 176], [3.05, 168], [3.1, 178], [3.15, 172], [2.45, 150], [2.7, 155],
  [2.85, 150], [3.09, 127], [3.14, 124], [2.9, 122], [3.2, 160], [3.4, 165], [3.6, 178], [3.75, 164], [4.14, 148],
  [4.28, 129],
  [2.3, -176], [2.36, -170], [2.42, -178], [2.48, -172], [2.55, -180], [2.6, -174], [2.66, -168], [2.72, -178],
  [2.78, -172], [2.85, -176], [2.9, -168], [2.95, -178], [3.0, -172], [2.5, -160], [2.8, -155], [2.25, -140],
  [2.22, -105],
  [3.05, -165], [3.1, -150], [3.15, -140], [3.18, -128], [3.22, -155], [3.26, -170], [3.3, -178], [3.33, -160],
  [3.36, -145], [3.38, -130], [3.4, -120], [3.43, -150], [3.46, -165], [3.5, -135], [3.52, -110], [3.55, -125],
  [3.58, -95], [3.6, -80], [3.62, -100], [3.65, -70], [3.14, -100], [3.35, -108], [3.42, -100], [3.7, -150],
  [3.8, -140], [3.64, -172],
  [3.66, -50], [3.7, -35], [3.73, -60], [3.76, -20], [3.8, -45], [3.83, -10], [3.86, -30], [3.9, 0], [3.92, -15],
  [3.95, 15], [3.98, -5], [3.68, -90], [3.72, -115], [3.8, -112],
  [3.9, 30], [3.95, 45], [4.0, 25], [4.03, 50], [4.06, 35], [4.1, 60], [4.13, 20], [4.16, 45], [4.2, 30], [4.23, 55],
  [4.26, 40], [4.3, 65], [4.33, 25], [4.36, 50], [4.4, 35], [4.0, 10], [4.1, -10], [4.2, 5], [4.3, 15], [4.4, 10],
  [4.28, 105], [4.3, 100], [4.35, 85], [4.4, 75], [4.45, 90], [4.5, 70], [4.55, 60], [4.6, 80], [5.08, 89],
  [4.45, 20], [4.5, 10], [4.55, 30], [4.6, 0], [4.65, 15], [4.7, -10], [4.75, 20], [4.8, -20], [4.85, 5], [4.9, -30],
  [4.95, -5], [5.0, -40], [4.7, -60], [4.85, -50], [4.6, -45], [5.05, -55], [4.55, -40],
  [5.0, 20], [5.05, 10], [5.1, 30], [5.15, 15], [5.2, 40], [5.25, 20], [5.3, 5], [5.35, 30], [5.4, 50], [5.45, 25],
  [5.5, 35], [5.1, 0], [5.2, -5], [5.3, -10], [5.15, -20],
  [5.52, 55], [5.56, 70], [5.6, 60], [5.64, 85], [5.68, 75], [5.72, 95], [5.76, 80], [5.8, 110], [5.83, 125],
  [5.86, 100], [5.9, 140], [5.93, 120], [5.96, 150], [6.0, 130], [6.03, 160], [6.06, 140], [6.1, 165],
  [5.58, 45], [5.66, 62], [5.74, 72], [5.84, 92], [5.94, 108], [6.04, 128], [6.12, 150],
  [6.13, 172], [6.16, 155], [6.2, 178], [6.25, 165], [6.3, 175], [6.35, 160], [6.4, 178], [6.45, 170], [6.5, 176],
  [6.55, 165], [6.6, 178], [6.3, 140], [6.42, 120], [6.65, 150], [6.18, 84], [6.68, 149],
  [6.3, -150], [6.35, -170], [6.4, -178], [6.45, -160], [6.5, -175], [6.55, -168], [6.6, -178], [6.65, -155],
  [6.7, -172], [6.75, -140], [6.8, -165], [6.85, -130], [6.9, -150], [6.5, -130], [6.6, -120], [6.4, -140],
  [6.2, -160], [6.45, -50], [6.5, -100],
  [6.9, -120], [6.95, -100], [7.0, -135], [7.02, -80], [7.05, -110], [7.1, -95], [7.12, -60], [7.15, -125], [7.2, -85],
  [7.22, -50], [7.25, -100], [7.3, -70], [7.33, -40], [7.36, -90], [7.4, -55], [7.43, -30], [7.46, -75], [7.5, -45],
  [7.01, 41], [6.88, -170], [6.95, -155], [7.1, -160], [7.3, -150], [7.15, -130],
  [6.98, -118], [7.08, -105], [7.18, -92], [7.28, -82], [7.38, -65], [7.48, -58],
  [7.53, -20], [7.56, -40], [7.6, -5], [7.63, -30], [7.66, 10], [7.7, -15], [7.73, 20], [7.76, -5], [7.8, 25],
  [7.83, 5], [7.86, 30], [7.9, 10], [7.93, 35], [7.96, 15], [8.0, 40], [8.03, 20], [8.06, 45], [8.1, 25], [8.13, 50],
  [8.16, 30], [8.2, 55], [8.23, 35], [8.26, 60], [8.3, 40], [7.95, 127], [7.95, 82], [8.23, -63], [8.17, -85],
  [7.58, 5], [7.68, 0], [7.78, 10], [7.88, 18], [7.98, 28], [8.08, 35], [8.18, 45], [8.28, 50], [8.38, 58],
  [8.48, 65], [8.58, 72], [8.68, 80], [8.78, 88], [8.88, 95], [8.98, 102], [9.08, 110], [9.18, 118], [9.28, 125],
  [9.38, 132], [9.48, 142], [9.58, 152], [9.68, 160],
  [8.33, 65], [8.36, 45], [8.4, 70], [8.43, 50], [8.46, 75], [8.5, 55], [8.53, 80], [8.56, 60], [8.6, 85], [8.63, 65],
  [8.66, 90], [8.7, 70], [8.73, 95], [8.76, 75], [8.8, 100], [8.83, 80], [8.86, 105], [8.9, 85], [8.93, 110],
  [8.96, 90], [9.0, 115], [9.03, 95], [9.06, 120], [9.1, 100], [9.13, 125], [9.16, 105], [9.2, 130], [9.23, 110],
  [9.26, 135], [9.3, 140], [9.33, 115], [9.36, 145], [9.4, 125], [9.43, 150], [9.46, 130], [9.5, 155], [9.53, 140],
  [9.56, 160], [9.6, 145], [9.63, 165], [9.66, 150], [9.7, 170], [9.73, 155], [9.76, 165], [9.8, 175], [9.85, 160],
  [9.9, 178], [9.95, 165], [10.0, 175], [10.05, 170], [10.1, 178], [10.15, 165], [10.2, 176], [10.25, 170],
  [10.3, 180], [10.35, 168], [10.4, 176], [10.45, 160], [10.5, 172], [10.55, 178], [10.6, 165], [10.65, 175],
  [10.7, 170], [10.75, 178], [10.8, 160], [10.85, 172], [10.9, 178], [10.95, 168], [11.0, 176], [11.1, 172],
  [11.2, 178], [11.3, 170], [11.4, 176], [11.5, 168], [10.9, 150], [10.95, 140], [9.67, 36], [9.84, 36], [10.17, 9],
  [10.9, -45], [10.27, -155], [10.49, -170], [10.6, -172], [10.35, -178], [9.84, 97], [9.63, 92],
  [11.0, -175], [11.05, -165], [11.1, -178], [11.15, -160], [11.2, -170], [11.25, -150], [11.3, -165], [11.35, -140],
  [11.4, -155], [11.45, -130], [11.5, -145], [11.55, -120], [11.6, -110], [11.65, -130], [11.7, -100], [11.75, -120],
  [11.8, -90], [11.85, -110], [11.9, -80], [11.95, -100], [12.0, -70], [12.05, -90], [12.1, -60], [12.15, -80],
  [12.2, -50], [12.25, -70], [12.3, -40], [12.35, -60], [12.4, -30], [12.45, -50], [12.5, -20], [12.55, -40],
  [12.6, -10], [12.65, -30], [12.7, 0], [12.75, -20], [12.3, -100], [12.4, -85], [12.5, -110], [12.6, -90],
  [12.65, -125], [12.7, -80], [12.75, -105],
  [11.08, -170], [11.28, -158], [11.48, -138], [11.68, -115], [11.88, -95], [12.08, -75], [12.28, -55], [12.48, -35],
  [12.68, -18], [12.88, 0], [13.08, 8], [13.28, 15], [13.48, 28], [13.68, 45], [13.88, 68], [14.08, 90], [14.28, 108],
  [14.48, 128], [14.68, 148], [14.88, 162],
  [12.8, 10], [12.85, -10], [12.9, 15], [12.95, -5], [13.0, 20], [13.05, 0], [13.1, 25], [13.15, 5], [13.2, 30],
  [13.25, -15], [13.3, 20], [13.35, -30], [13.4, 35], [13.45, 10], [13.0, -40], [13.1, -60], [13.2, -30],
  [13.5, 40], [13.55, 25], [13.6, 55], [13.65, 35], [13.7, 70], [13.75, 45], [13.8, 80], [13.85, 60], [13.9, 95],
  [13.95, 70], [14.0, 105], [14.05, 80], [14.1, 110], [14.15, 90], [14.2, 120], [14.25, 95], [14.3, 125], [14.0, 60],
  [14.2, 70], [14.35, 105], [14.4, 135], [14.45, 115], [14.5, 145], [14.55, 125], [14.6, 150], [14.65, 135],
  [14.7, 160], [14.75, 140], [14.8, 165], [14.85, 150], [14.9, 170], [14.95, 155], [15.0, 160], [14.93, -162],
  [14.98, -176], [14.6, 75], [14.7, 90], [14.5, 105],
];
const phaseRecTR: Pt[] = [
  [0.02, 3], [0.05, -6], [0.08, 0], [0.1, -12], [0.13, 4], [0.16, -4], [0.2, -10], [0.23, 5], [0.26, -5], [0.3, 2],
  [0.33, -12], [0.36, 6], [0.4, -3], [0.43, -8], [0.46, 4], [0.5, -2], [0.53, -10], [0.56, 5], [0.6, -4], [0.63, 8],
  [0.66, -6], [0.7, 3], [0.73, 10], [0.76, -3], [0.8, 6], [0.83, 12], [0.86, 2], [0.9, 9], [0.93, 16], [0.96, 5],
  [1.0, 12], [1.03, 20], [1.06, 8], [1.1, 16], [1.13, 25],
  [0.0, 180], [0.11, 116], [0.17, 103], [0.06, 81], [0.17, 63], [0.06, 57], [0.22, 41], [0.06, 36], [0.17, 31],
  [0.11, -36], [0.0, -81], [0.22, -20], [0.55, 36], [0.6, -33], [0.78, -22], [0.94, 36], [0.3, 50], [0.4, -25],
  [0.08, -15], [0.14, 20],
  [1.1, -25], [1.16, -60], [1.22, -76], [1.16, -97], [1.5, -71], [1.77, -76], [1.55, -119], [1.33, 143], [1.5, 148],
  [1.66, 137], [1.99, 145], [2.05, 116], [1.33, 73], [1.33, 52], [1.94, 89], [2.0, 60], [1.4, 155], [1.45, 165],
  [1.6, 130], [1.7, 160], [1.8, 150], [1.9, 170], [1.3, 178], [1.5, 175], [1.7, 178], [1.85, 174], [2.1, -25],
  [2.15, -50], [2.05, -100],
  [1.4, -161], [1.5, -170], [1.55, -150], [1.6, -176], [1.65, -140], [1.7, -165], [1.75, -178], [1.8, -158],
  [1.85, -170], [1.9, -134], [1.95, -175], [2.0, -162], [2.05, -178], [2.1, -150], [2.15, -170], [1.45, -130],
  [2.27, 175], [2.32, 168], [2.36, 178], [2.4, 162], [2.45, 172], [2.5, 178], [2.55, 165], [2.6, 175], [2.65, 160],
  [2.7, 170], [2.75, 178], [2.8, 166], [2.85, 174], [2.9, 160], [2.95, 170], [3.0, 178], [3.05, 165], [3.1, 175],
  [3.15, 160], [3.2, 172], [3.25, 178], [3.3, 165], [3.4, 174], [3.5, 170], [2.5, 150], [2.8, 145], [3.05, 124],
  [3.2, 127], [2.93, 119], [3.65, 164], [3.88, 169], [4.15, 148],
  [2.3, -175], [2.35, -168], [2.4, -178], [2.45, -170], [2.5, -176], [2.55, -180], [2.6, -172], [2.65, -178],
  [2.7, -166], [2.75, -175], [2.8, -180], [2.85, -170], [2.9, -176], [2.95, -168], [3.0, -178], [3.1, -172],
  [3.2, -165],
  [3.32, -150], [3.35, -170], [3.38, -135], [3.42, -160], [3.45, -120], [3.48, -150], [3.52, -140], [3.55, -170],
  [3.58, -125], [3.62, -160], [3.65, -178], [3.4, -100],
  [3.66, -100], [3.7, -80], [3.73, -60], [3.76, -90], [3.8, -40], [3.83, -70], [3.86, -25], [3.9, -50], [3.93, -10],
  [3.96, -30], [4.0, -15],
  [3.95, 30], [4.0, 45], [4.05, 20], [4.1, 55], [4.15, 35], [4.2, 60], [4.25, 25], [4.3, 50], [4.35, 40], [4.4, 15],
  [4.45, 45], [4.5, 30], [4.55, 55], [4.6, 20], [4.65, 35], [4.1, 10], [4.2, -5], [4.3, 5], [4.4, -15], [4.5, 0],
  [4.6, -10], [4.32, 105], [4.37, 84], [4.33, 98], [4.54, 127], [5.09, 89], [4.65, 68], [4.4, 75],
  [4.7, -20], [4.75, -5], [4.8, -30], [4.87, -55], [5.09, -33], [4.9, 5], [5.0, -10], [4.85, -40],
  [4.95, 15], [5.0, 25], [5.05, 5], [5.1, 30], [5.15, 15], [5.2, 35], [5.25, 10], [5.3, 25], [5.35, 5], [5.4, 30],
  [5.45, 20], [5.5, 40], [5.45, 50], [5.5, 60], [5.55, 45], [5.6, 75], [5.65, 60], [5.7, 85],
  [5.72, 100], [5.76, 90], [5.8, 120], [5.84, 105], [5.88, 135], [5.92, 115], [5.96, 145], [6.0, 130],
  [5.58, 52], [5.68, 70], [5.78, 98], [5.9, 125], [6.02, 150], [6.12, 160],
  [6.03, 160], [6.06, 145], [6.1, 170], [6.15, 155], [6.2, 178], [6.25, 165], [6.3, 175], [6.35, 168], [6.4, 178],
  [6.31, 41], [7.03, 41], [6.75, 153], [6.5, 170], [6.6, 178],
  [6.2, -160], [6.25, -175], [6.3, -150], [6.35, -168], [6.4, -178], [6.45, -160], [6.5, -172], [6.55, -145],
  [6.6, -178], [6.65, -165], [6.7, -135], [6.75, -172], [6.8, -155], [6.85, -178], [6.5, -120],
  [6.9, -130], [6.95, -110], [7.0, -140], [7.05, -95], [7.1, -120], [7.15, -80], [7.2, -105], [7.25, -65],
  [7.3, -90], [7.35, -50], [7.4, -75], [7.45, -35], [6.95, -160], [7.1, -150], [7.0, -45], [6.9, -28],
  [6.98, -125], [7.08, -108], [7.18, -92], [7.28, -78], [7.38, -62], [7.48, -48],
  [7.5, -60], [7.55, -20], [7.6, -45], [7.65, -5], [7.7, -30], [7.75, 5], [7.8, -15], [7.85, 15], [7.9, -5],
  [7.95, 25], [8.0, 5], [8.05, 30], [8.1, 15], [8.15, 40], [8.2, 20], [8.25, -30], [8.3, -60], [7.92, 127],
  [7.92, 87], [8.2, -65], [8.14, -81],
  [7.58, -35], [7.68, -15], [7.78, -5], [7.88, 8], [7.98, 15], [8.08, 22], [8.18, 30], [8.28, 38], [8.38, 45],
  [8.48, 52], [8.58, 58], [8.68, 65], [8.78, 72], [8.88, 80], [8.98, 88], [9.08, 92], [9.18, 98], [9.28, 108],
  [9.38, 112], [9.48, 122], [9.58, 130], [9.68, 138], [9.78, 148], [9.88, 150], [9.98, 158], [10.08, 162],
  [8.25, 45], [8.3, 25], [8.35, 55], [8.4, 35], [8.45, 60], [8.5, 40], [8.55, 65], [8.6, 50], [8.65, 75], [8.7, 55],
  [8.75, 80], [8.8, 60], [8.85, 90], [8.9, 70], [8.95, 95], [9.0, 75], [9.05, 100], [9.1, 80], [9.15, 105],
  [9.2, 90], [9.25, 115], [9.3, 95], [9.35, 120], [9.4, 105], [9.45, 130], [9.5, 110], [9.55, 140], [9.6, 120],
  [9.65, 145], [9.63, 36], [9.8, 36], [10.19, 9],
  [9.7, 150], [9.75, 130], [9.8, 155], [9.85, 140], [9.9, 160], [9.95, 145], [10.0, 165], [10.05, 150], [10.1, 170],
  [10.15, 155], [10.2, 175], [10.25, 160], [10.3, 178], [10.35, 165], [10.4, 172],
  [10.45, 178], [10.5, 168], [10.55, 176], [10.6, 162], [10.65, 174], [10.7, 180], [10.75, 166], [10.8, 176],
  [10.85, 170], [10.9, 178], [10.95, 165], [11.0, 175], [11.05, 168], [11.1, 178], [11.15, 160], [11.2, 172],
  [11.3, 176], [11.4, 165], [11.5, 175], [10.74, 105], [11.24, 113], [10.96, -44], [10.3, -145], [10.41, -169],
  [10.68, -156], [11.35, -175],
  [11.07, -178], [11.12, -165], [11.17, -175], [11.22, -155], [11.27, -170], [11.32, -145], [11.37, -160],
  [11.42, -135], [11.47, -150], [11.52, -125], [11.57, -140], [11.62, -115], [11.67, -130], [11.72, -105],
  [11.77, -120], [11.82, -95], [11.87, -110], [11.92, -85], [11.97, -100], [12.02, -75], [12.07, -90], [12.12, -65],
  [12.17, -80], [12.22, -55], [12.27, -70],
  [11.1, -168], [11.3, -152], [11.5, -138], [11.7, -118], [11.9, -98], [12.1, -72], [12.3, -52], [12.5, -38],
  [12.7, -22], [12.9, -2], [13.1, 5], [13.3, 8], [13.5, 22], [13.7, 35], [13.9, 50], [14.1, 62], [14.3, 85],
  [14.5, 100], [14.7, 128], [14.9, 140],
  [12.32, -45], [12.37, -60], [12.42, -35], [12.47, -50], [12.52, -25], [12.57, -40], [12.62, -15], [12.67, -30],
  [12.72, -5], [12.77, -20], [12.82, 0],
  [12.65, -60], [12.7, -75], [12.75, -90], [12.8, -55], [12.9, -80], [12.95, -100], [13.0, -70], [13.05, -60],
  [13.1, -85], [13.2, -108], [12.85, -120],
  [12.9, -10], [12.95, 5], [13.0, -20], [13.05, 10], [13.1, -5], [13.15, 15], [13.2, 0], [13.25, 20], [13.3, -15],
  [13.35, 10], [13.4, 25], [13.45, -5], [13.5, 15], [13.55, 30], [13.6, 5], [13.65, -30],
  [13.62, 40], [13.67, 20], [13.72, 50], [13.77, 30], [13.82, 55], [13.87, 35], [13.92, 63], [13.97, 45], [14.02, 70],
  [14.07, 50], [14.12, 80], [14.17, 60], [14.22, 90], [14.27, 70], [14.32, 100], [14.37, 80], [14.42, 110],
  [14.47, 90], [14.52, 116], [14.57, 95],
  [14.62, 125], [14.67, 105], [14.72, 135], [14.77, 115], [14.82, 145], [14.87, 125], [14.92, 155], [14.97, 135],
  [15.0, 150], [14.95, -161], [14.84, -176], [14.73, 73], [14.62, 23],
];

const rows = (pts: Pt[]) => pts.map(([x, y]) => ({ x, y }));

const FONT = "'Liberation Sans', Arial, 'Noto Sans CJK JP', sans-serif";
const RED = "#ff0000";
const BLUE = "#0000ff";

function Cross(props: any) {
  const { cx, cy } = props;
  if (cx == null || cy == null || isNaN(cx) || isNaN(cy)) return null;
  const s = 3.1;
  return (
    <path
      d={`M${cx - s},${cy - s}L${cx + s},${cy + s}M${cx - s},${cy + s}L${cx + s},${cy - s}`}
      stroke={RED}
      strokeWidth={1.25}
      fill="none"
    />
  );
}

const SUP: Record<string, string> = { "100": "2", "0.1": "-1", "0.01": "-2" };

function AmpTick(props: any) {
  const { x, y, payload } = props;
  const v = payload.value;
  const label = v === 1 ? "1" : "10";
  const sup = SUP[String(v)];
  const shift = sup && sup.startsWith("-") ? -3 : 0;
  return (
    <g fontFamily={FONT} fill="#000">
      <text x={x + shift} y={y + 6} textAnchor="end" fontSize={17}>
        {label}
      </text>
      {sup && (
        <text x={x + shift + 1} y={y - 2} fontSize={11}>
          {sup}
        </text>
      )}
    </g>
  );
}

const PLOT_W = 452;
const AMP_H = 338;
const PH_H = 225;

function AmpPanel({ left, record, calc, showY, label }: { left: number; record: Pt[]; calc: Pt[]; showY: boolean; label: string }) {
  const yw = showY ? 87 : 20;
  return (
    <div style={{ position: "absolute", left: left - yw, top: 60 }}>
      <ComposedChart width={yw + PLOT_W + 10} height={13 + AMP_H + 9} margin={{ top: 13, right: 10, bottom: 9, left: showY ? 0 : yw }}>
        <CartesianGrid horizontalValues={ampMinor} verticalValues={freqMinor} stroke="#777" strokeDasharray="4 3" />
        <CartesianGrid horizontalValues={ampMajor} verticalValues={freqMajor} stroke="#9a9a9a" strokeWidth={1.6} />
        <XAxis dataKey="x" type="number" domain={[0, 15]} ticks={freqTicks} allowDataOverflow hide />
        <YAxis
          dataKey="y"
          type="number"
          scale="log"
          domain={[0.01, 100]}
          ticks={ampTicks}
          interval={0}
          allowDataOverflow
          hide={!showY}
          width={87}
          axisLine={false}
          tickLine={false}
          tickSize={0}
          tickMargin={12}
          tick={<AmpTick />}
        />
        <Scatter data={rows(record)} dataKey="y" shape={<Cross />} isAnimationActive={false} />
        <Line data={rows(calc)} dataKey="y" type="linear" stroke={BLUE} strokeWidth={2.4} strokeDasharray="8 4" dot={false} isAnimationActive={false} />
      </ComposedChart>
      <Frame left={yw} top={13} width={PLOT_W} height={AMP_H} />
      <PanelLabel right={yw + PLOT_W - 7} top={13 + 16} text={label} />
    </div>
  );
}

function PhasePanel({ left, record, calc, showY, label }: { left: number; record: Pt[]; calc: Pt[]; showY: boolean; label: string }) {
  const yw = showY ? 87 : 20;
  return (
    <div style={{ position: "absolute", left: left - yw, top: 430 }}>
      <ComposedChart width={yw + PLOT_W + 14} height={10 + PH_H + 30} margin={{ top: 10, right: 14, bottom: 0, left: showY ? 0 : yw }}>
        <CartesianGrid horizontalValues={phaseMinor} verticalValues={freqMinor} stroke="#777" strokeDasharray="4 3" />
        <CartesianGrid horizontalValues={phaseMajor} verticalValues={freqMajor} stroke="#9a9a9a" strokeWidth={1.6} />
        <XAxis
          dataKey="x"
          type="number"
          domain={[0, 15]}
          ticks={freqTicks}
          interval={0}
          allowDataOverflow
          height={30}
          axisLine={false}
          tickLine={false}
          tickSize={0}
          tickMargin={8}
          tick={{ fill: "#000", fontSize: 17, fontFamily: FONT }}
        />
        <YAxis
          dataKey="y"
          type="number"
          domain={[-180, 180]}
          ticks={phaseTicks}
          interval={0}
          allowDataOverflow
          hide={!showY}
          width={87}
          axisLine={false}
          tickLine={false}
          tickSize={0}
          tickMargin={6}
          tick={{ fill: "#000", fontSize: 17, fontFamily: FONT }}
        />
        <Scatter data={rows(record)} dataKey="y" shape={<Cross />} isAnimationActive={false} />
        <Line data={rows(calc)} dataKey="y" type="linear" stroke={BLUE} strokeWidth={2.4} strokeDasharray="8 4" dot={false} isAnimationActive={false} />
      </ComposedChart>
      <Frame left={yw} top={10} width={PLOT_W} height={PH_H} />
      <PanelLabel right={yw + PLOT_W - 7} top={10 + 16} text={label} />
    </div>
  );
}

function Frame({ left, top, width, height }: { left: number; top: number; width: number; height: number }) {
  return (
    <div
      style={{
        position: "absolute",
        left: left - 1,
        top: top - 1,
        width: width + 2,
        height: height + 2,
        border: "2px solid #000",
        boxSizing: "border-box",
        pointerEvents: "none",
      }}
    />
  );
}

function PanelLabel({ right, top, text }: { right: number; top: number; text: string }) {
  return (
    <div
      style={{
        position: "absolute",
        left: right - 30,
        width: 30,
        top,
        textAlign: "right",
        fontFamily: FONT,
        fontSize: 17,
        lineHeight: "16px",
        color: "#000",
      }}
    >
      <span style={{ background: "#fff", padding: "0 1px" }}>{text}</span>
    </div>
  );
}

const textStyle: React.CSSProperties = { position: "absolute", fontFamily: FONT, color: "#000", whiteSpace: "nowrap", lineHeight: 1 };

export default function App() {
  return (
    <div style={{ position: "absolute", left: 0, top: 0, width: 1027, height: 719, background: "#fff", overflow: "hidden" }}>
      {/* legend */}
      <div style={{ position: "absolute", left: 364, top: 10, width: 353, height: 55, border: "2px solid #000", boxSizing: "border-box" }} />
      <div style={{ ...textStyle, left: 523, top: 19, fontSize: 17 }}>地震記録</div>
      <div style={{ ...textStyle, left: 605, top: 19, fontSize: 17 }}>計算値</div>
      <div style={{ ...textStyle, left: 393, top: 37, fontSize: 17 }}>小段 / 小段-22m</div>
      <svg style={{ position: "absolute", left: 540, top: 34 }} width={120} height={20}>
        <path d="M15,7L21,13M15,13L21,7" stroke={RED} strokeWidth={1.25} fill="none" />
        <line x1={71} y1={10} x2={108} y2={10} stroke={BLUE} strokeWidth={2.4} strokeDasharray="8 4" />
      </svg>

      <AmpPanel left={87} record={ampRecLG} calc={ampCalcLG} showY label="LG" />
      <AmpPanel left={567} record={ampRecTR} calc={ampCalcTR} showY={false} label="TR" />
      <PhasePanel left={87} record={phaseRecLG} calc={phaseCalcLG} showY label="LG" />
      <PhasePanel left={567} record={phaseRecTR} calc={phaseCalcTR} showY={false} label="TR" />

      {/* axis titles */}
      <div style={{ ...textStyle, left: 18, top: 242, fontSize: 16, transform: "translate(-50%, -50%) rotate(-90deg)" }}>振幅比</div>
      <div style={{ ...textStyle, left: 18, top: 552, fontSize: 16, transform: "translate(-50%, -50%) rotate(-90deg)" }}>位相差 (deg.)</div>
      <div style={{ ...textStyle, left: 313, top: 710, fontSize: 16, transform: "translate(-50%, -50%)" }}>周波数 (Hz)</div>
      <div style={{ ...textStyle, left: 792, top: 710, fontSize: 16, transform: "translate(-50%, -50%)" }}>周波数 (Hz)</div>
    </div>
  );
}
